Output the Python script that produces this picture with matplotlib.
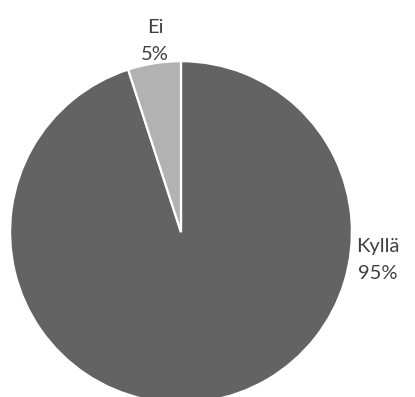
import matplotlib
matplotlib.use("Agg")
import matplotlib.pyplot as plt

labels = ["Kyllä", "Ei"]
shares = [95, 5]
colors = ["#636363", "#b2b2b2"]
# label anchor positions in pie data units (radius 1)
label_pos = [(1.152, -0.164), (-0.152, 1.117)]

plt.rcParams["font.family"] = ["Lato", "DejaVu Sans"]

fig = plt.figure(figsize=(4.15, 3.97), dpi=100)
ax = fig.add_axes([0.0241, -0.0151, 0.824, 0.861])
ax.pie(shares, colors=colors, startangle=90, counterclock=False, radius=1,
       wedgeprops=dict(edgecolor="white", linewidth=1.6))
ax.set_xlim(-1, 1)
ax.set_ylim(-1, 1)
ax.set_aspect("equal")
ax.axis("off")

for lab, val, (x, y) in zip(labels, shares, label_pos):
    ax.text(x, y, f"{lab}\n{val}%", ha="center", va="center", fontsize=14.5,
            color="#404040", linespacing=1.75, clip_on=False)

fig.savefig("out.png", dpi=100)
